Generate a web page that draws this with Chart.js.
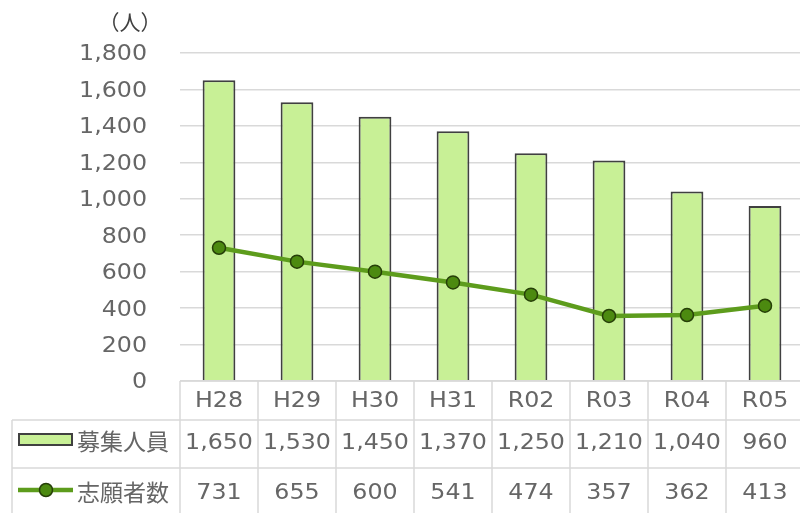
<!DOCTYPE html>
<html><head><meta charset="utf-8">
<script src="https://cdn.jsdelivr.net/npm/chart.js@4/dist/chart.umd.min.js"></script>
<style>
html,body{margin:0;padding:0;background:#fff;overflow:hidden;}
#wrap{width:800px;height:513px;overflow:hidden;position:relative;}
canvas{display:block;}
</style></head><body>
<div id="wrap"><canvas id="c" width="812" height="513" style="width:812px;height:513px"></canvas></div>
<script>
const categories = ['H28','H29','H30','H31','R02','R03','R04','R05'];
const recruitValues = [1650,1530,1450,1370,1250,1210,1040,960];
const applicantValues = [731,655,600,541,474,357,362,413];
const seriesNames = ['募集人員','志願者数'];
const unitLabel = '（人）';

const TXT = '#666666';
const GRID = '#d9d9d9';
const BAR_FILL = '#c8f096';
const BAR_EDGE = '#404040';
const LINE_C = '#5d9c1c';
const PT_FILL = '#4c8a10';
const PT_EDGE = '#263f08';
const NUMFONT = '21px "DejaVu Sans", Verdana, sans-serif';
const JPFONT = '23px "Noto Sans CJK JP", sans-serif';
const XSCALE = 1.13;

function wideText(ctx, text, x, y, align) {
  ctx.save();
  ctx.translate(x, y);
  ctx.scale(XSCALE, 1);
  ctx.textAlign = align;
  ctx.fillText(text, 0, 0);
  ctx.restore();
}

const tablePlugin = {
  id: 'dataTable',
  afterDraw(chart) {
    const ctx = chart.ctx;
    const x = chart.scales.x;
    const y = chart.scales.y;
    const ca = chart.chartArea;
    const n = categories.length;
    const colW = x.getPixelForValue(1) - x.getPixelForValue(0);
    const top = ca.bottom;
    const r1 = 420, r2 = 468, bot = 560;
    const leftT = 12;
    ctx.save();
    ctx.strokeStyle = GRID;
    ctx.lineWidth = 1.5;
    ctx.beginPath();
    ctx.moveTo(ca.left, top); ctx.lineTo(ca.right, top);
    ctx.moveTo(leftT, r1); ctx.lineTo(ca.right, r1);
    ctx.moveTo(leftT, r2); ctx.lineTo(ca.right, r2);
    ctx.moveTo(leftT, r1); ctx.lineTo(leftT, bot);
    for (let i = 0; i <= n; i++) {
      const bx = x.getPixelForValue(0) - colW / 2 + i * colW;
      ctx.moveTo(bx, top); ctx.lineTo(bx, bot);
    }
    ctx.stroke();

    ctx.fillStyle = TXT;
    ctx.textBaseline = 'middle';
    ctx.font = NUMFONT;
    // y-axis labels
    y.ticks.forEach(t => {
      wideText(ctx, t.value.toLocaleString('en-US'), 147, y.getPixelForValue(t.value) + 2, 'right');
    });
    for (let i = 0; i < n; i++) {
      const cx = x.getPixelForValue(i);
      wideText(ctx, categories[i], cx, 402, 'center');
      wideText(ctx, recruitValues[i].toLocaleString('en-US'), cx, 444, 'center');
      wideText(ctx, applicantValues[i].toLocaleString('en-US'), cx, 494, 'center');
    }
    // legend keys
    ctx.fillStyle = BAR_FILL;
    ctx.strokeStyle = BAR_EDGE;
    ctx.lineWidth = 2;
    ctx.fillRect(19, 434, 53, 11);
    ctx.strokeRect(19, 434, 53, 11);
    ctx.strokeStyle = LINE_C;
    ctx.lineWidth = 4.5;
    ctx.beginPath(); ctx.moveTo(18, 490); ctx.lineTo(73, 490); ctx.stroke();
    ctx.beginPath(); ctx.arc(46, 490, 6.5, 0, Math.PI * 2);
    ctx.fillStyle = PT_FILL; ctx.fill();
    ctx.strokeStyle = PT_EDGE; ctx.lineWidth = 1.5; ctx.stroke();

    ctx.fillStyle = TXT;
    ctx.font = JPFONT;
    ctx.textAlign = 'left';
    ctx.fillText(seriesNames[0], 77, 441);
    ctx.fillText(seriesNames[1], 77, 492);
    ctx.textAlign = 'center';
    ctx.fillStyle = '#404040';
    ctx.font = '21px "Noto Sans CJK JP", sans-serif';
    ctx.fillText(unitLabel, 130, 22);
    ctx.restore();
  }
};

new Chart(document.getElementById('c'), {
  data: {
    labels: categories,
    datasets: [
      {
        type: 'line', label: seriesNames[1], data: applicantValues,
        borderColor: LINE_C, borderWidth: 4.5,
        pointBackgroundColor: PT_FILL, pointBorderColor: PT_EDGE,
        pointBorderWidth: 1.5, pointRadius: 6.5, tension: 0, order: 0
      },
      {
        type: 'bar', label: seriesNames[0], data: recruitValues,
        backgroundColor: BAR_FILL, borderColor: BAR_EDGE, borderWidth: 2,
        categoryPercentage: 1, barPercentage: 0.42, order: 1
      }
    ]
  },
  options: {
    responsive: false, animation: false, devicePixelRatio: 1,
    layout: { padding: { top: 53, bottom: 132, left: 0, right: 0 } },
    plugins: { legend: { display: false }, tooltip: { enabled: false } },
    scales: {
      x: { display: false, offset: true },
      y: {
        min: 0, max: 1800,
        afterFit(s) { s.width = 180; },
        border: { display: false },
        grid: { color: GRID, lineWidth: 1.5, drawTicks: false },
        ticks: { stepSize: 200, display: false }
      }
    }
  },
  plugins: [tablePlugin]
});
</script>
</body></html>
